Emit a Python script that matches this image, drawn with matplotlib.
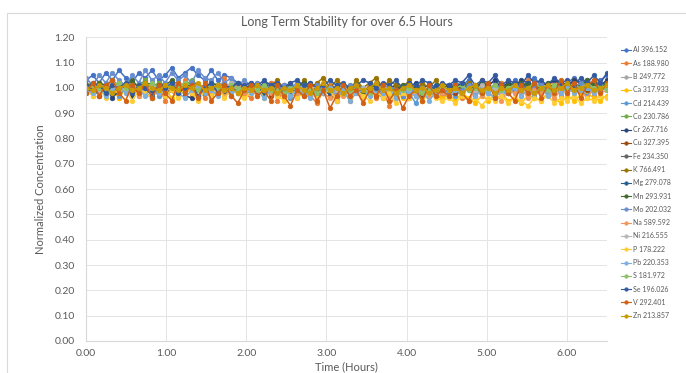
import numpy as np
import matplotlib
matplotlib.use("Agg")
import matplotlib.pyplot as plt
from matplotlib.patches import Rectangle

plt.rcParams['font.family'] = ['Lato', 'DejaVu Sans']

labels = ["Al 396.152", "As 188.980", "B 249.772", "Ca 317.933", "Cd 214.439", "Co 230.786",
          "Cr 267.716", "Cu 327.395", "Fe 234.350", "K 766.491", "Mg 279.078", "Mn 293.931",
          "Mo 202.032", "Na 589.592", "Ni 216.555", "P 178.222", "Pb 220.353", "S 181.972",
          "Se 196.026", "V 292.401", "Zn 213.857"]

colors = ["#4472C4", "#ED7D31", "#A5A5A5", "#FFC000", "#5B9BD5", "#70AD47",
          "#264478", "#9E480E", "#636363", "#997300", "#255E91", "#43682B",
          "#698ED0", "#F1975A", "#B7B7B7", "#FFCD33", "#7CAFDD", "#8CC168",
          "#335AA1", "#D26012", "#CC9A00"]

t_end = 6.5

Al = [1.03,1.05,1.02,1.06,1.03,1.07,1.04,1.02,1.06,1.04,1.07,1.03,1.05,1.08,1.04,1.06,1.08,1.05,1.03,1.07,1.03,1.05,1.04,1.02,1.01,
      1.02,1.00,1.01,1.02,1.00,1.01,0.99,1.01,1.00,1.02,1.00,0.99,1.01,1.00,0.98,1.00,1.01,0.99,1.00,1.02,1.00,0.99,1.01,0.98,1.00,0.99,1.01,0.97,1.00,0.99,
      1.00,1.02,1.01,1.03,1.00,1.02,1.01,1.03,1.02,1.00,1.03,1.01,1.02,1.04,1.01,1.02,1.03,1.01,1.02,1.04,1.02,1.03,1.01,1.03,1.05]
As = [1.01,0.97,1.02,0.98,1.03,0.96,1.00,1.02,0.97,1.03,0.98,1.01,0.95,1.02,0.98,1.03,0.97,1.01,0.96,1.02,0.98,1.04,0.97,1.01,0.98,
      0.96,1.01,0.97,1.02,0.95,0.99,1.01,0.96,1.02,0.97,0.94,0.99,1.01,0.96,0.99,0.95,1.01,0.97,1.02,0.96,0.99,0.93,0.97,1.01,0.96,0.99,0.95,1.01,0.97,0.96,
      0.98,1.02,0.96,1.01,0.97,1.03,0.98,0.96,1.02,0.98,1.01,0.97,1.03,0.96,1.01,0.98,1.02,0.97,1.01,1.03,0.98,1.02,0.97,1.01,1.03]
B = [1.01,1.00,1.02,0.99,1.01,1.00,1.02,1.01,0.99,1.01,1.00,1.02,1.01,1.00,0.99,1.01,1.02,1.00,1.01,0.99,1.00,1.01,1.00,0.99,1.01,
     1.00,0.99,1.00,0.98,1.00,0.99,1.01,0.99,0.98,1.00,0.99,1.00,0.98,0.99,1.00,0.98,0.99,1.00,0.99,0.98,1.00,0.99,0.97,0.99,1.00,0.98,0.99,1.00,0.98,0.99,
     1.00,0.99,1.01,1.00,0.98,1.00,1.01,0.99,1.00,1.01,0.99,1.00,1.02,1.00,0.99,1.01,1.00,1.02,1.00,1.01,0.99,1.01,1.00,1.02,1.01]
Ca = [0.99,1.00,0.97,1.01,0.99,0.96,1.00,0.98,1.00,0.99,1.01,0.97,1.00,0.96,0.99,1.00,0.98,1.00,0.99,0.96,1.00,0.98,0.99,1.00,0.97,
      0.99,0.97,0.99,0.98,1.00,0.97,0.96,0.99,0.98,1.00,0.96,0.99,0.98,0.95,0.99,0.97,1.00,0.96,0.98,0.99,0.96,0.98,1.00,0.96,0.99,0.97,0.95,0.98,0.99,0.96,
      0.97,0.95,0.98,0.96,0.94,0.97,0.95,0.97,0.98,0.95,0.96,0.94,0.97,0.96,0.95,0.98,0.96,0.94,0.97,0.95,0.97,0.98,0.96,0.95,0.97]
Cd = [0.99,1.00,0.98,1.01,0.99,0.97,1.00,1.01,0.98,0.99,1.00,0.97,0.99,1.01,0.98,1.00,0.99,0.96,1.00,0.98,1.01,0.99,0.97,1.00,0.99,
      0.98,1.00,0.97,0.99,0.98,1.00,0.96,0.99,0.98,1.00,0.97,0.99,0.98,0.95,0.99,0.98,1.00,0.97,0.99,0.98,0.96,0.99,0.97,1.00,0.98,0.94,0.99,0.97,0.98,1.00,
      0.98,0.97,0.99,1.00,0.97,0.99,0.98,1.00,0.97,0.99,0.98,1.00,0.99,0.97,1.00,0.98,0.99,1.01,0.98,1.00,0.99,0.97,1.00,0.99,1.01]
Co = [1.01,1.02,1.00,1.01,1.03,1.01,1.00,1.02,1.01,1.03,1.00,1.02,1.01,1.00,1.02,1.01,1.03,1.01,1.00,1.02,1.01,1.00,1.02,1.01,1.00,
      1.01,0.99,1.00,1.01,0.99,1.00,1.01,0.99,1.00,0.98,1.00,1.01,0.99,1.00,0.99,1.01,0.99,1.00,0.98,1.00,0.99,1.01,0.99,0.98,1.00,0.99,1.00,0.98,0.99,1.00,
      1.01,0.99,1.00,1.02,1.00,1.01,0.99,1.01,1.00,1.02,1.01,0.99,1.01,1.00,1.02,1.01,1.00,1.02,1.01,1.00,1.02,1.01,1.03,1.01,1.02]
Cr = [0.98,1.00,0.97,1.00,0.96,0.99,1.01,0.97,1.00,0.98,0.96,1.00,0.97,0.99,1.01,0.97,0.96,1.00,0.98,0.97,1.00,0.98,1.01,0.98,1.00,
      1.01,1.00,1.02,1.00,1.01,0.99,1.01,1.00,1.02,1.00,0.99,1.01,1.00,0.99,1.01,1.00,1.02,0.99,1.00,1.01,0.99,1.00,1.01,0.99,1.00,1.02,1.00,1.01,0.99,1.00,
      1.01,1.00,1.02,1.01,1.00,1.02,1.01,1.03,1.00,1.02,1.01,1.03,1.02,1.00,1.02,1.01,1.03,1.02,1.01,1.03,1.02,1.00,1.02,1.01,1.03]
Cu = [1.00,0.99,1.01,0.98,1.00,0.99,1.01,1.00,0.98,1.00,0.99,1.01,0.98,1.00,0.99,1.00,0.98,1.01,0.99,1.00,0.98,1.00,0.99,1.01,0.98,
      0.99,0.98,1.00,0.97,0.99,0.98,1.00,0.98,0.97,0.99,0.98,1.00,0.97,0.99,0.98,0.96,0.99,0.98,1.00,0.97,0.99,0.98,0.97,0.99,0.98,1.00,0.97,0.99,0.98,0.99,
      1.00,0.98,0.99,1.01,0.99,0.98,1.00,0.99,1.01,0.98,1.00,0.99,1.01,1.00,0.98,1.00,0.99,1.01,0.99,1.00,1.02,0.99,1.00,1.01,0.99]
Fe = [1.00,1.01,0.99,1.00,1.02,1.00,0.99,1.01,1.00,0.99,1.01,1.00,1.02,0.99,1.00,1.01,0.99,1.00,1.01,1.00,0.99,1.01,1.00,0.99,1.00,
      0.99,1.00,0.98,1.00,0.99,1.01,0.99,0.98,1.00,0.99,1.00,0.98,0.99,1.01,0.99,0.98,1.00,0.99,0.98,1.00,0.99,1.01,0.98,0.99,1.00,0.98,0.99,1.00,0.99,0.98,
      1.00,0.99,1.01,1.00,0.99,1.01,1.00,0.99,1.01,1.00,1.02,0.99,1.01,1.00,0.99,1.01,1.00,1.02,1.00,0.99,1.01,1.00,1.02,1.01,1.00]
K = [1.00,1.01,0.99,1.00,1.02,1.00,0.99,1.01,1.00,1.02,0.99,1.01,1.00,0.99,1.01,1.00,1.02,1.00,0.99,1.01,1.00,0.99,1.01,1.00,0.99,
     1.00,1.02,0.99,1.01,1.03,1.00,1.02,0.99,1.03,1.00,1.02,1.04,1.00,1.03,1.01,0.99,1.03,1.00,1.02,1.04,1.00,1.03,1.01,1.00,1.03,0.99,1.02,1.00,1.03,1.00,
     0.99,1.01,1.00,1.02,0.99,1.01,1.00,0.99,1.01,1.00,0.99,1.01,1.00,1.02,0.99,1.01,1.00,0.99,1.01,1.00,1.02,1.00,0.99,1.01,1.00]
Mg = [1.00,0.99,1.01,1.00,0.98,1.00,1.01,0.99,1.00,1.02,0.99,1.00,0.98,1.01,1.00,0.99,1.01,1.00,0.98,1.00,1.01,0.99,1.00,0.98,1.00,
      0.99,1.00,0.98,0.99,1.01,0.99,0.98,1.00,0.99,0.97,0.99,1.00,0.98,0.99,1.00,0.98,0.99,0.97,1.00,0.99,0.98,1.00,0.99,0.97,0.99,1.00,0.98,0.99,1.01,0.99,
      1.00,0.99,1.01,0.99,1.00,1.02,0.99,1.01,1.00,0.99,1.01,1.00,1.02,1.00,0.99,1.01,1.00,1.02,0.99,1.01,1.00,1.02,1.01,0.99,1.01]
Mn = [1.01,1.00,1.02,1.01,1.00,1.02,1.01,1.03,1.00,1.01,1.02,1.00,1.01,1.03,1.01,1.00,1.02,1.01,1.00,1.02,1.01,1.00,1.01,1.02,1.00,
      1.01,1.00,0.99,1.01,1.00,0.99,1.01,1.00,1.02,0.99,1.00,1.01,0.99,1.00,1.01,0.99,1.00,0.98,1.00,1.01,0.99,1.00,0.99,1.01,0.99,1.00,0.98,1.00,0.99,1.00,
      1.01,1.00,0.99,1.01,1.00,1.02,1.00,1.01,0.99,1.01,1.00,1.02,1.01,1.00,1.01,1.02,1.00,1.01,1.02,1.00,1.01,1.03,1.01,1.00,1.02]
Mo = [1.04,1.01,1.05,1.02,1.06,1.03,1.01,1.05,1.02,1.07,1.03,1.05,1.02,1.06,1.03,1.05,1.02,1.07,1.04,1.03,1.06,1.02,1.04,1.01,1.03,
      1.01,1.02,1.00,1.01,0.99,1.01,1.00,1.02,0.99,1.00,1.01,0.99,1.00,0.98,1.00,1.01,0.99,1.00,0.98,1.00,0.99,1.01,0.99,0.97,1.00,0.98,1.00,0.99,0.97,1.00,
      0.98,1.00,0.99,1.01,0.98,1.00,0.99,1.01,1.00,0.98,1.00,1.01,0.99,1.00,1.02,0.99,1.00,1.01,0.99,1.00,1.02,1.00,0.99,1.01,1.00]
Na = [0.99,1.01,0.98,1.00,0.99,1.02,0.98,1.00,0.97,0.99,1.01,0.98,1.00,0.99,0.97,1.00,0.98,1.01,0.99,0.98,1.00,0.97,0.99,1.01,0.98,
      0.99,0.97,1.00,0.98,0.99,0.96,0.99,0.98,1.00,0.97,0.99,0.98,0.96,0.99,0.97,1.00,0.98,0.96,0.99,0.98,1.00,0.97,0.98,0.99,0.96,0.98,1.00,0.97,0.99,0.98,
      0.97,0.99,0.98,0.95,0.99,0.97,1.00,0.98,0.95,0.99,0.98,1.00,0.96,0.99,0.98,1.00,0.96,0.99,0.98,1.00,0.99,0.96,1.00,0.98,0.99]
Ni = [1.00,1.01,0.99,1.00,1.02,1.00,0.99,1.01,1.00,0.98,1.01,1.00,0.99,1.01,1.02,1.00,0.99,1.01,1.00,0.99,1.01,1.00,1.02,0.99,1.00,
      0.99,1.01,0.99,1.00,0.98,1.00,0.99,1.01,0.98,1.00,0.99,0.98,1.00,0.99,1.01,0.98,0.99,1.00,0.98,0.99,1.01,0.99,0.98,1.00,0.99,0.97,1.00,0.99,0.98,1.00,
      0.99,1.00,0.98,1.00,0.99,1.01,0.99,1.00,0.98,1.00,1.01,0.99,1.00,0.98,1.00,0.99,1.01,0.99,1.00,0.98,1.00,1.01,0.99,1.00,0.99]
P = [0.99,0.97,1.00,0.96,0.99,0.98,1.00,0.95,0.99,0.98,0.96,1.00,0.97,0.99,0.96,1.00,0.98,0.95,0.99,0.97,1.00,0.96,0.99,0.98,0.96,
     0.98,1.00,0.96,0.99,0.97,0.95,0.99,0.96,0.98,1.00,0.96,0.98,0.99,0.95,0.98,0.96,0.99,0.97,0.95,0.99,0.96,0.98,0.94,0.98,0.96,0.99,0.95,0.98,0.96,0.95,
     0.96,0.94,0.97,0.95,0.96,0.93,0.96,0.95,0.97,0.94,0.96,0.95,0.93,0.96,0.95,0.97,0.94,0.96,0.95,0.97,0.94,0.96,0.95,0.97,0.96]
Pb = [0.99,0.98,1.00,0.97,0.99,1.01,0.98,1.00,0.99,0.97,1.00,0.98,0.99,1.01,0.98,0.96,0.99,1.00,0.98,0.99,0.97,1.00,0.98,0.99,1.00,
      0.98,0.99,0.96,0.99,0.98,1.00,0.97,0.99,0.98,0.96,0.99,0.98,1.00,0.97,0.99,0.95,0.98,0.99,0.97,0.99,0.98,1.00,0.96,0.99,0.98,0.97,0.99,0.95,0.98,0.99,
      0.97,0.99,0.98,1.00,0.97,0.99,0.98,0.96,0.99,0.98,1.00,0.97,0.99,0.98,1.00,0.97,0.99,0.98,1.00,0.98,0.99,1.00,0.98,0.99,1.00]
S = [1.00,1.01,1.00,0.99,1.01,1.02,1.00,0.99,1.01,1.00,1.02,1.00,0.99,1.01,1.00,1.02,1.01,0.99,1.00,1.01,1.00,0.99,1.01,1.00,0.99,
     1.00,0.99,1.01,0.99,1.00,0.98,1.00,0.99,1.01,0.99,0.98,1.00,0.99,1.00,0.98,0.99,1.01,0.99,0.98,1.00,0.99,1.00,0.98,0.99,1.00,0.99,0.98,1.00,0.99,1.01,
     0.99,1.00,1.01,0.99,1.00,0.98,1.00,1.01,0.99,1.00,1.01,0.99,1.00,1.02,1.00,0.99,1.01,1.00,0.99,1.01,1.00,1.02,1.00,1.01,0.99]
Se = [1.00,1.02,1.01,0.98,1.01,1.00,1.02,0.98,1.01,1.00,0.97,1.01,1.00,1.02,0.98,1.00,1.01,0.97,1.00,1.02,0.98,1.01,1.00,1.02,1.01,
      1.02,1.01,1.03,1.01,1.02,1.00,1.02,1.03,1.01,1.02,1.00,1.01,1.03,1.01,1.02,1.00,1.01,1.03,1.02,1.00,1.02,1.01,1.03,1.00,1.02,1.01,1.03,1.02,1.00,1.02,
      1.01,1.03,1.02,1.05,1.01,1.03,1.02,1.05,1.01,1.03,1.02,1.01,1.05,1.02,1.03,1.01,1.04,1.02,1.03,1.01,1.04,1.02,1.05,1.02,1.06]
V = [0.98,1.02,0.97,1.01,1.03,0.98,0.95,1.01,0.98,1.02,0.96,1.01,0.98,0.95,1.02,0.98,1.01,0.96,1.02,0.95,0.98,1.01,0.97,0.94,0.99,
     1.01,0.97,0.99,0.95,1.01,0.97,0.93,0.99,0.97,1.01,0.95,0.99,0.92,0.97,1.01,0.97,0.99,0.94,0.99,0.97,1.01,0.95,0.99,0.92,0.97,0.99,0.95,1.01,0.97,0.99,
     0.97,1.01,0.98,0.95,1.01,0.98,1.02,0.96,1.01,0.98,0.95,1.01,0.98,1.02,0.96,1.01,0.98,1.03,0.98,1.02,0.96,1.01,1.03,0.98,1.02]
Zn = [1.00,0.99,1.01,1.00,0.98,1.00,1.01,0.99,1.00,1.02,1.00,0.99,1.01,1.00,0.99,1.01,1.00,1.02,0.99,1.00,1.01,0.99,1.00,0.98,1.00,
      0.99,1.01,0.99,1.00,0.98,1.00,0.99,1.01,0.99,0.98,1.00,1.02,0.99,1.00,0.98,1.00,1.01,0.99,1.00,1.02,0.99,1.00,0.98,1.00,1.01,0.99,1.00,0.98,0.99,1.01,
      0.99,1.00,0.98,1.00,1.01,0.99,1.00,0.98,1.00,0.99,1.01,0.99,1.00,0.98,1.00,1.01,0.99,1.00,1.02,0.99,1.00,1.01,0.99,1.00,1.01]

series = [Al, As, B, Ca, Cd, Co, Cr, Cu, Fe, K, Mg, Mn, Mo, Na, Ni, P, Pb, S, Se, V, Zn]

W, H = 686, 373
fig = plt.figure(figsize=(W / 100, H / 100), dpi=100)
ax = fig.add_axes([86 / W, 1 - 341 / H, (607 - 86) / W, (341 - 37.3) / H])

txt = "#595959"
grid_c = "#E4E4E4"

fig.patches.append(Rectangle((7 / W, -0.05), 1.0, 1 - 12.5 / H + 0.05, transform=fig.transFigure,
                             fill=False, edgecolor="#D9D9D9", linewidth=0.8))

for vals, lab, c in zip(series, labels, colors):
    t = np.linspace(0, t_end, len(vals))
    ax.plot(t, vals, color=c, linewidth=1.1, marker='o', markersize=3.3,
            markeredgewidth=0.5, label=lab)

ax.set_xlim(0, 6.5)
ax.set_ylim(0, 1.2)
ax.set_xticks(np.arange(0, 7, 1.0))
ax.set_yticks(np.arange(0, 1.21, 0.1))
ax.xaxis.set_major_formatter(matplotlib.ticker.FormatStrFormatter('%.2f'))
ax.yaxis.set_major_formatter(matplotlib.ticker.FormatStrFormatter('%.2f'))
ax.grid(True, color=grid_c, linewidth=0.7)
ax.set_axisbelow(True)
for s in ['top', 'right']:
    ax.spines[s].set_visible(False)
for s in ['left', 'bottom']:
    ax.spines[s].set_color("#D9D9D9")
    ax.spines[s].set_linewidth(0.8)
ax.tick_params(length=0, labelsize=7.5, colors=txt)
ax.tick_params(axis='x', pad=6)
ax.tick_params(axis='y', pad=8)

ax.set_title("Long Term Stability for over 6.5 Hours", fontsize=9, color=txt, pad=8)
ax.set_ylabel("Normalized Concentration", fontsize=8, color=txt, labelpad=6)
ax.set_xlabel("Time (Hours)", fontsize=8, color=txt, labelpad=2)

leg = fig.legend(loc='upper left', bbox_to_anchor=(621 / W, 1 - 46.5 / H), frameon=False,
                 fontsize=5, labelspacing=0.905, handlelength=1.45, handletextpad=0.3,
                 borderpad=0, borderaxespad=0)
for tx in leg.get_texts():
    tx.set_color(txt)
for ln in leg.get_lines():
    ln.set_linewidth(0.8)
    ln.set_markersize(2.5)

fig.savefig("out.png", dpi=100)
